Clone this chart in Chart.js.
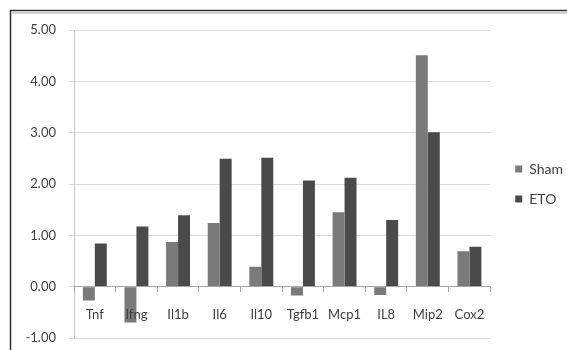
<!DOCTYPE html>
<html>
<head>
<meta charset="utf-8">
<script src="https://cdn.jsdelivr.net/npm/chart.js@4/dist/chart.umd.min.js"></script>
<style>
html,body{margin:0;padding:0;background:#fff;}
</style>
</head>
<body>
<canvas id="c" width="567" height="350"></canvas>
<script>
const categories = ["Tnf","Ifng","Il1b","Il6","Il10","Tgfb1","Mcp1","IL8","Mip2","Cox2"];
const shamValues = [-0.27,-0.70,0.87,1.24,0.39,-0.17,1.45,-0.16,4.51,0.69];
const etoValues  = [0.84,1.17,1.39,2.49,2.51,2.07,2.12,1.30,3.01,0.78];
const yTicks = [-1,0,1,2,3,4,5];

const frame = {
  id:'frame',
  afterLayout(chart){
    if (chart.legend) { chart.legend.left += 9; chart.legend.right += 9; }
  },
  beforeDraw(chart){
    const ctx = chart.ctx;
    ctx.save();
    ctx.fillStyle = '#ffffff';
    ctx.fillRect(0,0,chart.width,chart.height);
    ctx.strokeStyle = '#d0d0d0';
    ctx.lineWidth = 2;
    ctx.beginPath();
    ctx.moveTo(12, 13); ctx.lineTo(chart.width, 13);
    ctx.stroke();
    ctx.strokeStyle = '#303030';
    ctx.lineWidth = 1.5;
    ctx.beginPath();
    ctx.moveTo(10.5, chart.height); ctx.lineTo(10.5, 10.5); ctx.lineTo(chart.width, 10.5);
    ctx.stroke();
    ctx.restore();
  }
};

const font = {family:'Lato, "Liberation Sans", sans-serif', size:13};

new Chart(document.getElementById('c'), {
  type:'bar',
  data:{
    labels:categories,
    datasets:[
      {label:'Sham', data:shamValues, backgroundColor:'#7a7a7a', borderWidth:0},
      {label:'ETO', data:etoValues, backgroundColor:'#4a4a4a', borderWidth:0}
    ]
  },
  options:{
    responsive:false,
    animation:false,
    devicePixelRatio:1,
    layout:{padding:{left:0, top:30, bottom:12, right:3}},
    datasets:{bar:{categoryPercentage:0.575, barPercentage:1.0}},
    plugins:{
      legend:{
        position:'right',
        labels:{boxWidth:7, boxHeight:7, padding:16, color:'#404040', font:{family:font.family, size:14}}
      },
      tooltip:{enabled:false}
    },
    scales:{
      x:{
        position:{y:0},
        offset:true,
        grid:{offset:true, drawOnChartArea:false, drawTicks:true, tickLength:5, color:'#a6a6a6', z:1},
        border:{display:true, color:'#a6a6a6', z:1},
        ticks:{color:'#404040', font:font, padding:15, maxRotation:0, autoSkip:false, z:1}
      },
      y:{
        min:-1, max:5,
        afterBuildTicks(scale){ scale.ticks = yTicks.map(v=>({value:v})); },
        afterFit(scale){ scale.width = 74; scale.paddingTop = 8; scale.paddingBottom = 8; },
        grid:{color:'#d9d9d9', tickLength:5, drawTicks:true},
        border:{display:true, color:'#c8c8c8'},
        ticks:{color:'#404040', font:font, padding:13, callback:v=>Number(v).toFixed(2)}
      }
    }
  },
  plugins:[frame]
});
</script>
</body>
</html>
